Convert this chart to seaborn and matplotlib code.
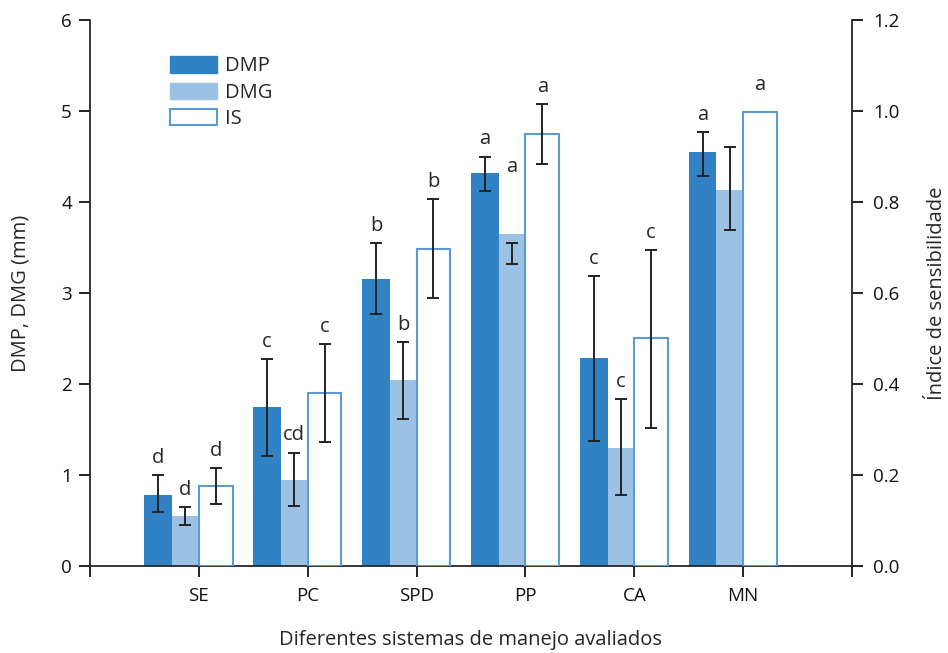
import numpy as np
import matplotlib
matplotlib.use("Agg")
import matplotlib.pyplot as plt
import matplotlib.patches as mpatches
import seaborn as sns

# ── Data ─────────────────────────────────────────────────────
systems = ["SE", "PC", "SPD", "PP", "CA", "MN"]

dmp = [0.79, 1.75, 3.16, 4.32, 2.29, 4.55]
dmp_lo = [0.60, 1.21, 2.77, 4.12, 1.38, 4.29]
dmp_hi = [1.00, 2.28, 3.55, 4.50, 3.19, 4.77]
dmp_letters = ["d", "c", "b", "a", "c", "a"]

dmg = [0.555, 0.95, 2.05, 3.65, 1.30, 4.13]
dmg_lo = [0.45, 0.66, 1.62, 3.32, 0.78, 3.69]
dmg_hi = [0.65, 1.25, 2.46, 3.55, 1.84, 4.60]
dmg_letters = ["d", "cd", "b", "a", "c", ""]

is_vals = [0.176, 0.382, 0.697, 0.949, 0.502, 0.999]
is_lo = [0.138, 0.274, 0.589, 0.883, 0.304, 0.999]
is_hi = [0.216, 0.488, 0.806, 1.015, 0.694, 0.999]
is_letters = ["d", "c", "b", "a", "c", "a"]

C_DMP = "#3182c4"
C_DMG = "#9bc2e4"
C_IS = "#5b9bd5"

sns.set_style("ticks")
plt.rcParams["font.family"] = ["Open Sans", "DejaVu Sans"]
plt.rcParams["axes.linewidth"] = 1.3

fig = plt.figure(figsize=(9.48, 6.53), dpi=100)
ax = fig.add_axes([0.0949, 0.1325, 0.8038, 0.8369])
ax2 = ax.twinx()

x = np.arange(1, len(systems) + 1)
w_dmp, w_dmg, w_is = 0.255, 0.245, 0.31

ekw = dict(fmt="none", ecolor="#222222", elinewidth=1.4, capsize=4.5,
           capthick=1.4, zorder=3)

def draw_err(a, xs, lo, hi):
    lo, hi = np.array(lo), np.array(hi)
    keep = hi > lo
    mid = (lo + hi) / 2
    a.errorbar(xs[keep], mid[keep], yerr=((hi - lo) / 2)[keep], **ekw)

x_dmp = x - w_dmg - w_dmp / 2
x_dmg = x - w_dmg / 2
x_is = x + w_is / 2

ax.bar(x_dmp, dmp, width=w_dmp, color=C_DMP, linewidth=0, zorder=2)
ax.bar(x_dmg, dmg, width=w_dmg, color=C_DMG, linewidth=0, zorder=2)
draw_err(ax, x_dmp, dmp_lo, dmp_hi)
draw_err(ax, x_dmg, dmg_lo, dmg_hi)
ax2.bar(x_is, is_vals, width=w_is, facecolor="white", edgecolor=C_IS,
        linewidth=1.5, zorder=2)
draw_err(ax2, x_is, is_lo, is_hi)

# significance letters
pad = 0.08
fs_letter = 14.5
for i in range(len(systems)):
    ax.text(x_dmp[i], max(dmp[i], dmp_hi[i]) + pad, dmp_letters[i],
            ha="center", va="bottom", fontsize=fs_letter)
    extra = 0.55 if systems[i] == "PP" else 0
    ax.text(x_dmg[i], max(dmg[i], dmg_hi[i]) + pad + extra, dmg_letters[i],
            ha="center", va="bottom", fontsize=fs_letter)
    extra = 0.02 if is_hi[i] <= is_lo[i] else 0
    ax2.text(x_is[i], max(is_vals[i], is_hi[i]) + pad / 5 + extra, is_letters[i],
             ha="center", va="bottom", fontsize=fs_letter)

ax.set_xlim(0, len(systems) + 1)
ax.set_ylim(0, 6)
ax2.set_ylim(0, 1.2)
ax.set_xticks(np.arange(0, len(systems) + 2))
ax.set_xticklabels([""] + systems + [""])
ax.set_yticks(np.arange(0, 7, 1))
ax2.set_yticks(np.arange(0, 1.21, 0.2))
ax2.set_yticklabels([f"{v:.1f}" for v in np.arange(0, 1.21, 0.2)])

for a in (ax, ax2):
    a.spines["top"].set_visible(False)
    a.tick_params(length=8, width=1.3, labelsize=13.5, pad=5, colors="#111111")
ax.spines["right"].set_visible(False)
ax2.spines["left"].set_visible(False)
ax2.spines["bottom"].set_visible(False)
ax2.spines["right"].set_linewidth(1.3)
ax.tick_params(axis="x", pad=7)
ax2.tick_params(axis="y", pad=7)

ax.set_xlabel("Diferentes sistemas de manejo avaliados", fontsize=14.5, labelpad=18)
ax.set_ylabel("DMP, DMG (mm)", fontsize=14.5, labelpad=22)
ax2.set_ylabel("Índice de sensibilidade", fontsize=14.5, labelpad=20)

handles = [mpatches.Patch(facecolor=C_DMP, edgecolor=C_DMP, label="DMP"),
           mpatches.Patch(facecolor=C_DMG, edgecolor=C_DMG, label="DMG"),
           mpatches.Patch(facecolor="white", edgecolor=C_IS, linewidth=1.5, label="IS")]
ax2.legend(handles=handles, loc="upper left", bbox_to_anchor=(0.095, 0.948),
           frameon=False, fontsize=14.5, handlelength=2.3, handleheight=0.85,
           labelspacing=0.3, handletextpad=0.4, borderaxespad=0)

fig.savefig("out.png", dpi=100)
